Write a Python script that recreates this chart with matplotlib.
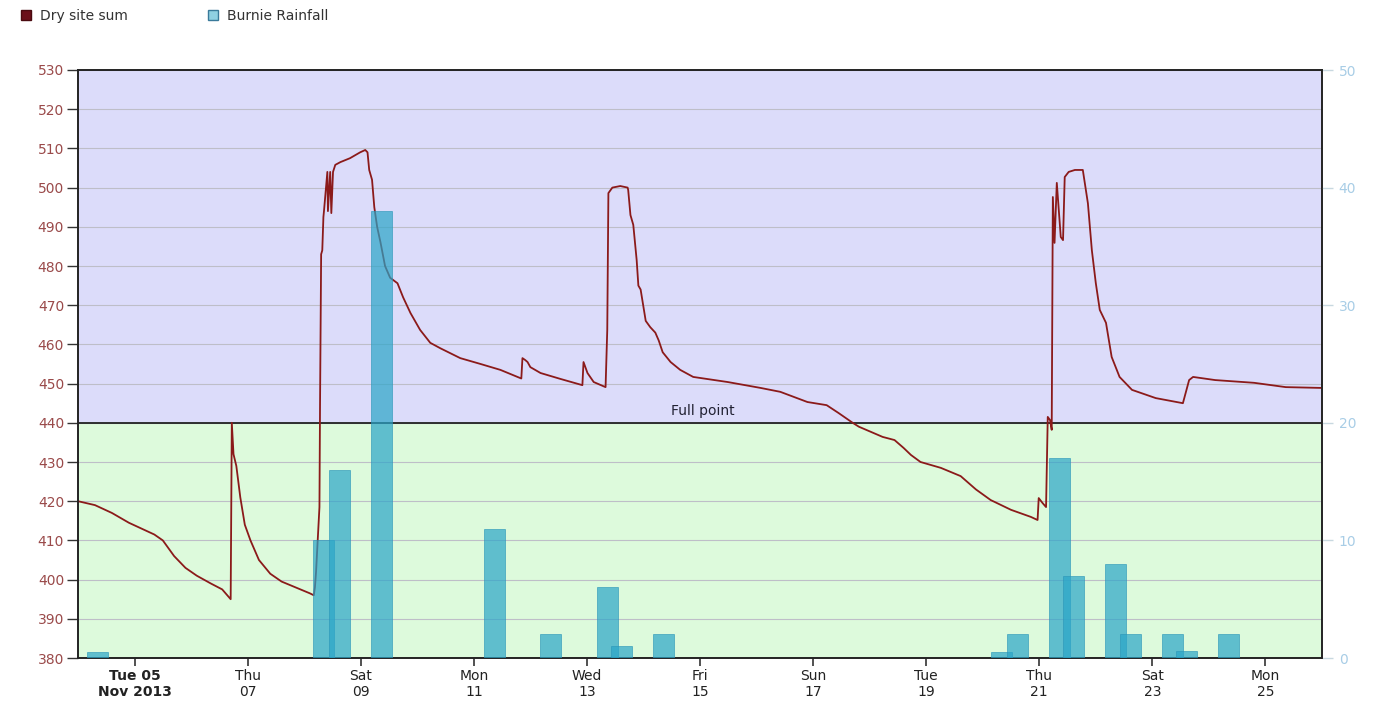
import matplotlib
matplotlib.use("Agg")
import matplotlib.pyplot as plt
import matplotlib.dates as mdates
from matplotlib.patches import Patch
from datetime import datetime, timedelta

# ---- data ----
base_date = datetime(2013, 11, 4)
# Dry site sum: (days since 2013-11-04 00:00, value)
dry_days = [0.00, 0.30, 0.60, 0.90, 1.20, 1.35, 1.50, 1.70, 1.90, 2.10, 2.35, 2.55, 2.70,
            2.72, 2.75, 2.80, 2.87, 2.95, 3.05, 3.20, 3.40, 3.60, 3.85, 4.10, 4.17,
            4.19, 4.21, 4.27, 4.28, 4.30, 4.32, 4.34, 4.35, 4.41, 4.42, 4.46, 4.48, 4.51,
            4.55, 4.64, 4.81, 4.99, 5.08, 5.12, 5.15, 5.20, 5.24, 5.29, 5.35, 5.43, 5.52,
            5.65, 5.75, 5.88, 6.05, 6.23, 6.41, 6.76, 7.12, 7.47, 7.84,
            7.86, 7.91, 7.95, 8.00, 8.18, 8.53, 8.92,
            8.94, 9.01, 9.12, 9.33, 9.36, 9.38, 9.45, 9.59, 9.72, 9.73, 9.77, 9.82, 9.88,
            9.91, 9.95, 10.04, 10.12, 10.21, 10.27, 10.34, 10.48, 10.65, 10.88, 11.49,
            12.07, 12.42, 12.90, 13.24, 13.45, 13.70, 13.81, 14.23, 14.44, 14.60, 14.73,
            14.90, 15.26, 15.61, 15.88, 16.14, 16.50, 16.85, 16.97,
            16.99, 17.06, 17.12, 17.15, 17.19, 17.22, 17.24, 17.27, 17.31, 17.38, 17.42,
            17.45, 17.52, 17.63, 17.77, 17.86, 17.93, 18.00, 18.07, 18.18, 18.28, 18.42,
            18.64, 19.06, 19.54, 19.65, 19.72, 20.11, 20.80, 21.36, 21.98]
dry_vals = [420.0, 419.0, 417.0, 414.5, 412.5, 411.5, 410.0, 406.0, 403.0, 401.0, 399.0, 397.5, 395.0,
            440.0, 432.0, 429.0, 421.0, 414.0, 410.0, 405.0, 401.5, 399.5, 398.0, 396.5, 396.0,
            398.0, 402.0, 418.5, 444.0, 483.0, 484.0, 492.5, 494.0, 504.0, 494.0, 504.0, 493.5, 504.0,
            505.8, 506.5, 507.5, 509.0, 509.6, 509.0, 504.5, 502.0, 495.0, 490.0, 486.0, 480.0, 477.0,
            475.6, 472.0, 468.0, 463.7, 460.4, 459.0, 456.5, 455.0, 453.5, 451.3,
            456.5, 456.0, 455.5, 454.2, 452.7, 451.2, 449.6,
            455.5, 452.7, 450.4, 449.1, 463.7, 498.6, 500.0, 500.4, 500.0, 499.4, 493.0, 490.5, 481.5,
            475.0, 474.0, 466.0, 464.4, 463.0, 461.0, 458.0, 455.5, 453.5, 451.7, 450.4,
            448.9, 447.9, 445.3, 444.5, 442.5, 440.0, 439.0, 436.4, 435.6, 433.6, 431.8,
            430.0, 428.5, 426.4, 423.0, 420.3, 417.8, 416.0, 415.2,
            420.8, 419.5, 418.5, 441.5, 440.7, 438.2, 497.6, 485.9, 501.2, 487.4, 486.6,
            502.7, 504.0, 504.5, 504.5, 496.0, 484.0, 475.6, 468.8, 465.5, 456.8, 451.7,
            448.4, 446.3, 445.0, 450.9, 451.7, 450.9, 450.2, 449.1, 448.9]

# Burnie Rainfall bars: (days since 2013-11-04 00:00, mm)
rain_days = [0.35, 4.34, 4.63, 5.37, 7.36, 8.35, 9.36, 9.61, 10.35,
             16.34, 16.62, 17.36, 17.60, 18.34, 18.62, 19.36, 19.60, 20.34]
rain_vals = [0.5, 10, 16, 38, 11, 2, 6, 1, 2,
             0.5, 2, 17, 7, 8, 2, 2, 0.6, 2]

tick_days = [1, 3, 5, 7, 9, 11, 13, 15, 17, 19, 21]
tick_labels = ["Tue 05\nNov 2013", "Thu\n07", "Sat\n09", "Mon\n11", "Wed\n13", "Fri\n15",
               "Sun\n17", "Tue\n19", "Thu\n21", "Sat\n23", "Mon\n25"]
full_point = 440

# ---- figure ----
plt.rcParams['font.family'] = ['DejaVu Sans']
fig = plt.figure(figsize=(13.83, 7.09), dpi=100)
ax = fig.add_axes([78/1383, 1-658/709, (1322-78)/1383, (658-70)/709])

x0 = mdates.date2num(base_date)
dry_x = [x0 + d for d in dry_days]
rain_x = [x0 + d for d in rain_days]

ax.set_xlim(x0, x0 + 22)
ax.set_ylim(380, 530)
ax.axhspan(440, 530, color='#DCDCFA', zorder=0)
ax.axhspan(380, 440, color='#DDFADC', zorder=0)
ax.set_yticks(range(380, 531, 10))
ax.grid(axis='y', color='#BEBEC8', lw=0.8, zorder=1)
ax.axhline(full_point, color='#222222', lw=1.3, zorder=3)
ax.text(x0 + 11.05, full_point + 1.2, "Full point", ha='center', va='bottom',
        fontsize=10, color='#222233', zorder=4)
ax.plot(dry_x, dry_vals, color='#8B1A1A', lw=1.3, zorder=5)

ax.set_xticks([x0 + d for d in tick_days])
ax.set_xticklabels(tick_labels)
for i, lab in enumerate(ax.get_xticklabels()):
    if i == 0:
        lab.set_fontweight('bold')
ax.tick_params(axis='x', length=6, width=1.2, color='#333333', labelsize=10,
               labelcolor='#222222', pad=2)
ax.tick_params(axis='y', length=8, width=1, color='#333333', labelsize=10,
               labelcolor='#9A4A4A', pad=2)
for sp in ax.spines.values():
    sp.set_color('#222222')
    sp.set_linewidth(1.2)

ax2 = ax.twinx()
ax2.set_ylim(0, 50)
ax2.set_yticks(range(0, 51, 10))
ax2.bar(rain_x, rain_vals, width=0.37, color='#2AA5C8', alpha=0.7,
        edgecolor='#2A95B8', linewidth=0.6, zorder=6)
ax2.tick_params(axis='y', length=8, width=1, color='#C8D8E0', labelsize=10,
                labelcolor='#A8CDE6', pad=4)
for sp in ax2.spines.values():
    sp.set_color('#222222')
    sp.set_linewidth(1.2)
ax2.set_xlim(x0, x0 + 22)

handles = [Patch(facecolor='#6B0F1A', edgecolor='#4A0A10', label='Dry site sum'),
           Patch(facecolor='#8FD0E2', edgecolor='#3A7A9A', label='Burnie Rainfall')]
fig.legend(handles=handles, loc='upper left', bbox_to_anchor=(0.006, 1.005), ncol=2,
           frameon=False, fontsize=10, handlelength=0.75, handleheight=0.75,
           columnspacing=5.8, handletextpad=0.6, labelcolor='#333333')

fig.savefig("out.png", dpi=100)
